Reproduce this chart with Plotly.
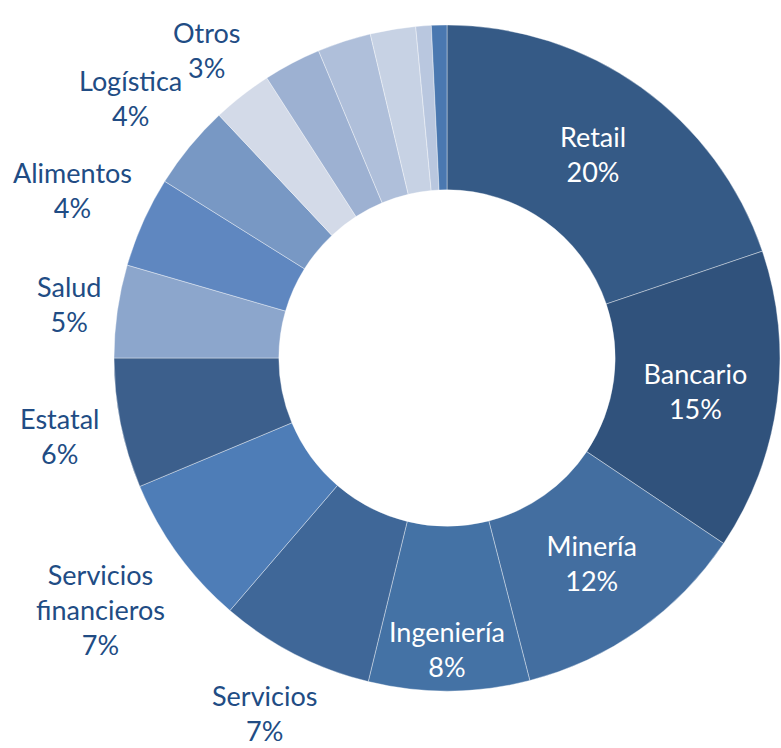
import math
import plotly.graph_objects as go

# ---- data ----
slice_ids = ["Retail", "Bancario", "Minería", "Ingeniería", "Servicios",
             "Servicios financieros", "Estatal", "Salud", "Alimentos", "Logística",
             "Otros", "Otros 2", "Otros 3", "Otros 4", "Otros 5", "Otros 6"]
label_names = ["Retail", "Bancario", "Minería", "Ingeniería", "Servicios",
               "Servicios<br>financieros", "Estatal", "Salud", "Alimentos", "Logística",
               "Otros", "", "", "", "", ""]
pct_text = ["20%", "15%", "12%", "8%", "7%", "7%", "6%", "5%", "4%", "4%", "3%",
            "", "", "", "", ""]
values = [19.8, 14.6, 11.6, 7.8, 7.5, 7.4, 6.3, 4.5, 4.4, 4.1,
          2.9, 2.8, 2.6, 2.2, 0.75, 0.75]
label_inside = [True, True, True, True, False, False, False, False, False, False,
                False, False, False, False, False, False]
colors = ["#355a86", "#30527c", "#436ea0", "#4472a5", "#3f6798", "#4e7db7",
          "#3c5f8c", "#8ca6cc", "#5f87c0", "#7898c4", "#d3dae8", "#9db1d2",
          "#afbfda", "#c7d2e4", "#b9c7df", "#4a78b0"]

# ---- style ----
W, H = 781, 748
MARGIN = dict(l=114, r=1, t=25, b=57)
FONT = "Lato"
FS = 27
OUT_COLOR = "#214c84"
GAP = 15

full_text = [f"{n}<br>{p}" if n else "" for n, p in zip(label_names, pct_text)]
inside_text = [t if ins else "" for t, ins in zip(full_text, label_inside)]

fig = go.Figure(go.Pie(
    labels=slice_ids,
    values=values,
    text=inside_text,
    textinfo="text",
    textposition="inside",
    insidetextorientation="horizontal",
    sort=False,
    direction="clockwise",
    rotation=0,
    hole=0.505,
    marker=dict(colors=colors, line=dict(color="rgba(255,255,255,0.55)", width=0.7)),
    insidetextfont=dict(color="white", size=FS, family=FONT),
    showlegend=False,
))

# outside labels placed along each slice's mid angle, just beyond the rim
pw = W - MARGIN["l"] - MARGIN["r"]
ph = H - MARGIN["t"] - MARGIN["b"]
R = min(pw, ph) / 2
total = sum(values)
cum = 0.0
annotations = []
for txt, ins, v in zip(full_text, label_inside, values):
    mid = (cum + v / 2) / total
    cum += v
    if ins or not txt:
        continue
    theta = 2 * math.pi * mid
    ux, uy = math.sin(theta), -math.cos(theta)
    lines = txt.split("<br>")
    half_w = max(len(s) for s in lines) * 0.45 * FS / 2
    half_h = len(lines) * FS * 1.3 / 2 * 0.85
    dist = R + GAP + half_w * abs(ux) + half_h * abs(uy)
    annotations.append(dict(
        x=0.5 + ux * dist / pw, y=0.5 - uy * dist / ph,
        xref="paper", yref="paper", text=txt, showarrow=False,
        xanchor="center", yanchor="middle", align="center",
        font=dict(family=FONT, size=FS, color=OUT_COLOR),
    ))

fig.update_layout(
    width=W, height=H,
    margin=MARGIN,
    paper_bgcolor="white",
    plot_bgcolor="white",
    font=dict(family=FONT),
    annotations=annotations,
)

fig.write_html("out.html",
               config={"displayModeBar": False},
               post_script="document.body.style.margin='0px';document.body.style.overflow='hidden';")
